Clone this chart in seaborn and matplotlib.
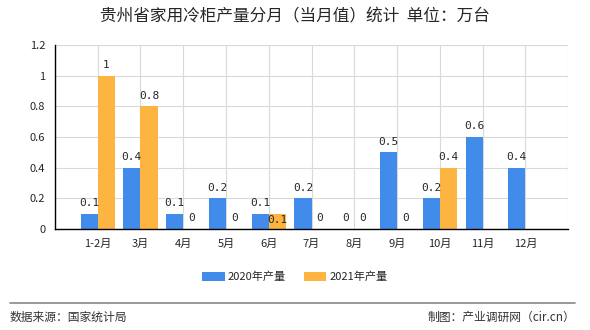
import numpy as np
import pandas as pd
import matplotlib
matplotlib.use("Agg")
import matplotlib.pyplot as plt
import seaborn as sns

months = ["1-2月", "3月", "4月", "5月", "6月", "7月", "8月", "9月", "10月", "11月", "12月"]
v2020 = [0.1, 0.4, 0.1, 0.2, 0.1, 0.2, 0, 0.5, 0.2, 0.6, 0.4]
v2021 = [1, 0.8, 0, 0, 0.1, 0, 0, 0, 0.4, np.nan, np.nan]
series = ["2020年产量", "2021年产量"]
colors = ["#418BEB", "#FDB441"]
yticks = [0, 0.2, 0.4, 0.6, 0.8, 1, 1.2]
ylabels = ["0", "0.2", "0.4", "0.6", "0.8", "1", "1.2"]

df = pd.DataFrame({
    "月份": months * 2,
    "值": v2020 + v2021,
    "系列": [series[0]] * len(months) + [series[1]] * len(months),
})

sns.set_style("white")
plt.rcParams["font.family"] = ["Noto Sans CJK SC", "DejaVu Sans"]

fig = plt.figure(figsize=(5.9, 3.3), dpi=100)
ax = fig.add_axes([0.093, 0.306, 0.870, 0.558])

sns.barplot(data=df, x="月份", y="值", hue="系列", palette=colors,
            width=0.8, saturation=1, ax=ax, legend=True, errorbar=None,
            linewidth=0, edgecolor="none")

ax.set_xlim(-1, 11)
ax.set_ylim(0, 1.2)
ax.set_yticks(yticks)
ax.set_yticklabels(ylabels, fontsize=8)
ax.set_xticks(range(-1, 12))
ax.set_xticklabels([""] + months + [""], fontsize=8)
ax.set_xlabel("")
ax.set_ylabel("")
ax.grid(True, color="#d9d9d9", linewidth=0.8)
ax.set_axisbelow(True)
for s in ["top", "right"]:
    ax.spines[s].set_visible(False)
for s in ["left", "bottom"]:
    ax.spines[s].set_color("black")
    ax.spines[s].set_linewidth(1)
ax.tick_params(axis="both", direction="out", length=4, width=1, color="black", pad=3)

def fmt(v):
    return "0" if v == 0 else ("%g" % v)

bw = 0.4
for i, v in enumerate(v2020):
    x = i - bw / 2
    ax.annotate(fmt(v), (x, v), xytext=(0, 4), textcoords="offset points",
                ha="center", va="bottom", fontsize=8, family="DejaVu Sans Mono")
for i, v in enumerate(v2021):
    if np.isnan(v):
        continue
    x = i + bw / 2
    if v > 0 and v == v2020[i]:
        # label pushed inside the bar (collision avoidance in original)
        ax.annotate(fmt(v), (x, v), xytext=(0, -1), textcoords="offset points",
                    ha="center", va="top", fontsize=8, family="DejaVu Sans Mono")
    else:
        ax.annotate(fmt(v), (x, v), xytext=(0, 4), textcoords="offset points",
                    ha="center", va="bottom", fontsize=8, family="DejaVu Sans Mono")

leg = ax.legend(loc="center", bbox_to_anchor=(0.5, 1 - 277 / 330), bbox_transform=fig.transFigure,
                ncol=2, frameon=False, fontsize=8, handlelength=2.0, handleheight=0.8,
                columnspacing=1.6, handletextpad=0.3)

fig.text(0.5, 1 - 17 / 330, "贵州省家用冷柜产量分月（当月值）统计  单位：万台",
         ha="center", va="center", fontsize=12)
fig.add_artist(plt.Line2D([10 / 590, 575 / 590], [1 - 303 / 330] * 2,
                          color="#888888", linewidth=1.2, transform=fig.transFigure))
fig.text(10 / 590, 1 - 317 / 330, "数据来源：国家统计局", ha="left", va="center",
         fontsize=8.5, color="#333333")
fig.text(575 / 590, 1 - 317 / 330, "制图：产业调研网（cir.cn）", ha="right", va="center",
         fontsize=8.5, color="#333333")

fig.savefig("out.png", dpi=100)
